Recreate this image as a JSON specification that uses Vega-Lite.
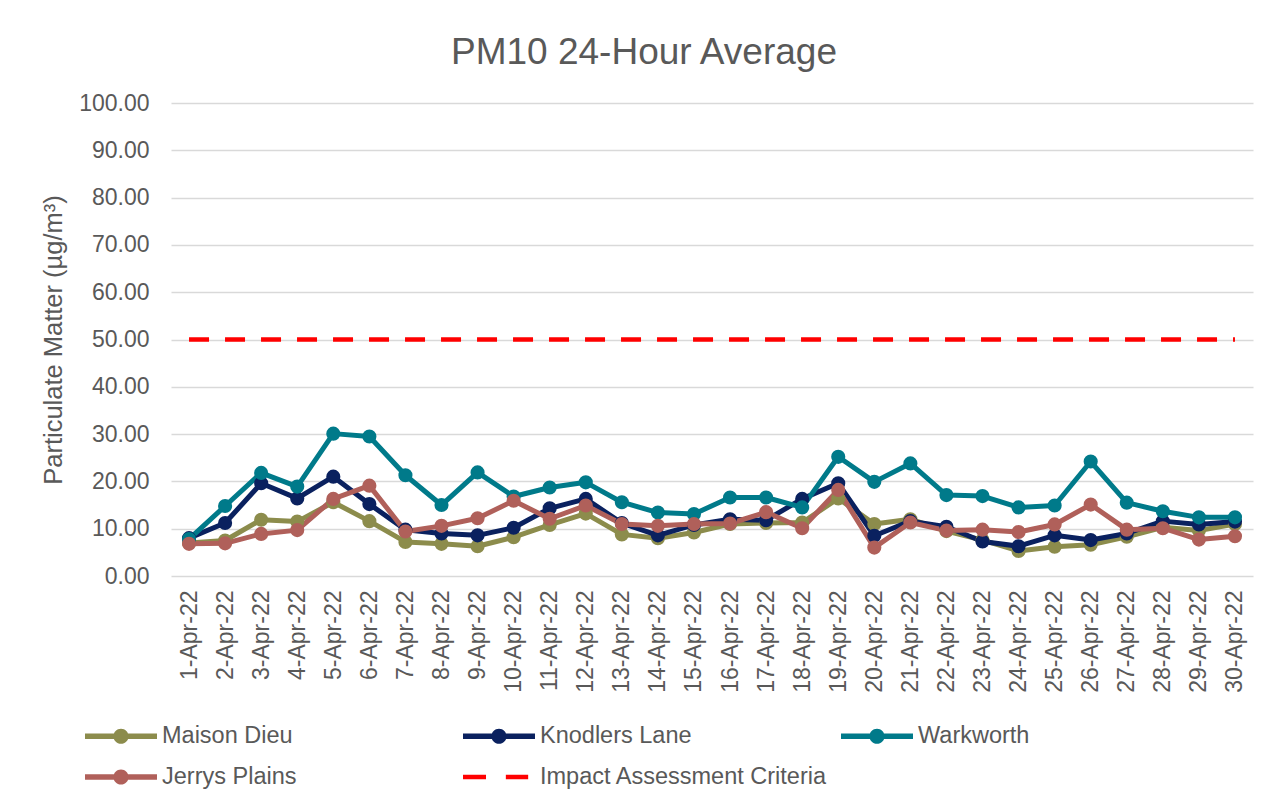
{
  "$schema": "https://vega.github.io/schema/vega-lite/v6.json",
  "width": 1082,
  "height": 473,
  "autosize": {"type": "none"},
  "padding": {"left": 171, "top": 103, "right": 21, "bottom": 233},
  "background": "white",
  "title": {
    "text": "PM10 24-Hour Average",
    "font": "Liberation Sans",
    "fontSize": 37,
    "fontWeight": "normal",
    "color": "#595959",
    "anchor": "middle",
    "dx": -68,
    "dy": 50,
    "offset": 41,
    "baseline": "alphabetic"
  },
  "config": {
    "view": {"stroke": null},
    "font": "Liberation Sans"
  },
  "data": {
    "values": [
      {"date": "1-Apr-22", "series": "Maison Dieu", "value": 7.0},
      {"date": "2-Apr-22", "series": "Maison Dieu", "value": 7.5},
      {"date": "3-Apr-22", "series": "Maison Dieu", "value": 11.9},
      {"date": "4-Apr-22", "series": "Maison Dieu", "value": 11.5},
      {"date": "5-Apr-22", "series": "Maison Dieu", "value": 15.6},
      {"date": "6-Apr-22", "series": "Maison Dieu", "value": 11.6},
      {"date": "7-Apr-22", "series": "Maison Dieu", "value": 7.2},
      {"date": "8-Apr-22", "series": "Maison Dieu", "value": 6.8},
      {"date": "9-Apr-22", "series": "Maison Dieu", "value": 6.3},
      {"date": "10-Apr-22", "series": "Maison Dieu", "value": 8.2},
      {"date": "11-Apr-22", "series": "Maison Dieu", "value": 10.8},
      {"date": "12-Apr-22", "series": "Maison Dieu", "value": 13.2},
      {"date": "13-Apr-22", "series": "Maison Dieu", "value": 8.8},
      {"date": "14-Apr-22", "series": "Maison Dieu", "value": 8.0},
      {"date": "15-Apr-22", "series": "Maison Dieu", "value": 9.2},
      {"date": "16-Apr-22", "series": "Maison Dieu", "value": 11.0},
      {"date": "17-Apr-22", "series": "Maison Dieu", "value": 11.2},
      {"date": "18-Apr-22", "series": "Maison Dieu", "value": 11.3},
      {"date": "19-Apr-22", "series": "Maison Dieu", "value": 16.4},
      {"date": "20-Apr-22", "series": "Maison Dieu", "value": 11.0},
      {"date": "21-Apr-22", "series": "Maison Dieu", "value": 12.0},
      {"date": "22-Apr-22", "series": "Maison Dieu", "value": 9.5},
      {"date": "23-Apr-22", "series": "Maison Dieu", "value": 7.6},
      {"date": "24-Apr-22", "series": "Maison Dieu", "value": 5.3},
      {"date": "25-Apr-22", "series": "Maison Dieu", "value": 6.2},
      {"date": "26-Apr-22", "series": "Maison Dieu", "value": 6.6},
      {"date": "27-Apr-22", "series": "Maison Dieu", "value": 8.3},
      {"date": "28-Apr-22", "series": "Maison Dieu", "value": 10.3},
      {"date": "29-Apr-22", "series": "Maison Dieu", "value": 9.6},
      {"date": "30-Apr-22", "series": "Maison Dieu", "value": 11.0},
      {"date": "1-Apr-22", "series": "Knodlers Lane", "value": 8.0},
      {"date": "2-Apr-22", "series": "Knodlers Lane", "value": 11.2},
      {"date": "3-Apr-22", "series": "Knodlers Lane", "value": 19.6},
      {"date": "4-Apr-22", "series": "Knodlers Lane", "value": 16.4},
      {"date": "5-Apr-22", "series": "Knodlers Lane", "value": 21.0},
      {"date": "6-Apr-22", "series": "Knodlers Lane", "value": 15.2},
      {"date": "7-Apr-22", "series": "Knodlers Lane", "value": 9.8},
      {"date": "8-Apr-22", "series": "Knodlers Lane", "value": 9.0},
      {"date": "9-Apr-22", "series": "Knodlers Lane", "value": 8.6},
      {"date": "10-Apr-22", "series": "Knodlers Lane", "value": 10.2},
      {"date": "11-Apr-22", "series": "Knodlers Lane", "value": 14.3},
      {"date": "12-Apr-22", "series": "Knodlers Lane", "value": 16.3},
      {"date": "13-Apr-22", "series": "Knodlers Lane", "value": 11.2},
      {"date": "14-Apr-22", "series": "Knodlers Lane", "value": 8.6},
      {"date": "15-Apr-22", "series": "Knodlers Lane", "value": 10.8},
      {"date": "16-Apr-22", "series": "Knodlers Lane", "value": 12.0},
      {"date": "17-Apr-22", "series": "Knodlers Lane", "value": 11.8},
      {"date": "18-Apr-22", "series": "Knodlers Lane", "value": 16.3},
      {"date": "19-Apr-22", "series": "Knodlers Lane", "value": 19.6},
      {"date": "20-Apr-22", "series": "Knodlers Lane", "value": 8.5},
      {"date": "21-Apr-22", "series": "Knodlers Lane", "value": 11.6},
      {"date": "22-Apr-22", "series": "Knodlers Lane", "value": 10.4},
      {"date": "23-Apr-22", "series": "Knodlers Lane", "value": 7.3},
      {"date": "24-Apr-22", "series": "Knodlers Lane", "value": 6.3},
      {"date": "25-Apr-22", "series": "Knodlers Lane", "value": 8.6},
      {"date": "26-Apr-22", "series": "Knodlers Lane", "value": 7.6},
      {"date": "27-Apr-22", "series": "Knodlers Lane", "value": 9.0},
      {"date": "28-Apr-22", "series": "Knodlers Lane", "value": 11.6},
      {"date": "29-Apr-22", "series": "Knodlers Lane", "value": 10.9},
      {"date": "30-Apr-22", "series": "Knodlers Lane", "value": 11.5},
      {"date": "1-Apr-22", "series": "Warkworth", "value": 7.8},
      {"date": "2-Apr-22", "series": "Warkworth", "value": 14.8},
      {"date": "3-Apr-22", "series": "Warkworth", "value": 21.8},
      {"date": "4-Apr-22", "series": "Warkworth", "value": 18.9},
      {"date": "5-Apr-22", "series": "Warkworth", "value": 30.1},
      {"date": "6-Apr-22", "series": "Warkworth", "value": 29.5},
      {"date": "7-Apr-22", "series": "Warkworth", "value": 21.3},
      {"date": "8-Apr-22", "series": "Warkworth", "value": 15.0},
      {"date": "9-Apr-22", "series": "Warkworth", "value": 21.9},
      {"date": "10-Apr-22", "series": "Warkworth", "value": 16.8},
      {"date": "11-Apr-22", "series": "Warkworth", "value": 18.7},
      {"date": "12-Apr-22", "series": "Warkworth", "value": 19.8},
      {"date": "13-Apr-22", "series": "Warkworth", "value": 15.6},
      {"date": "14-Apr-22", "series": "Warkworth", "value": 13.4},
      {"date": "15-Apr-22", "series": "Warkworth", "value": 13.1},
      {"date": "16-Apr-22", "series": "Warkworth", "value": 16.6},
      {"date": "17-Apr-22", "series": "Warkworth", "value": 16.6},
      {"date": "18-Apr-22", "series": "Warkworth", "value": 14.5},
      {"date": "19-Apr-22", "series": "Warkworth", "value": 25.2},
      {"date": "20-Apr-22", "series": "Warkworth", "value": 19.9},
      {"date": "21-Apr-22", "series": "Warkworth", "value": 23.8},
      {"date": "22-Apr-22", "series": "Warkworth", "value": 17.1},
      {"date": "23-Apr-22", "series": "Warkworth", "value": 16.9},
      {"date": "24-Apr-22", "series": "Warkworth", "value": 14.5},
      {"date": "25-Apr-22", "series": "Warkworth", "value": 14.9},
      {"date": "26-Apr-22", "series": "Warkworth", "value": 24.2},
      {"date": "27-Apr-22", "series": "Warkworth", "value": 15.5},
      {"date": "28-Apr-22", "series": "Warkworth", "value": 13.7},
      {"date": "29-Apr-22", "series": "Warkworth", "value": 12.4},
      {"date": "30-Apr-22", "series": "Warkworth", "value": 12.4},
      {"date": "1-Apr-22", "series": "Jerrys Plains", "value": 6.8},
      {"date": "2-Apr-22", "series": "Jerrys Plains", "value": 6.9},
      {"date": "3-Apr-22", "series": "Jerrys Plains", "value": 8.9},
      {"date": "4-Apr-22", "series": "Jerrys Plains", "value": 9.7},
      {"date": "5-Apr-22", "series": "Jerrys Plains", "value": 16.3},
      {"date": "6-Apr-22", "series": "Jerrys Plains", "value": 19.1},
      {"date": "7-Apr-22", "series": "Jerrys Plains", "value": 9.4},
      {"date": "8-Apr-22", "series": "Jerrys Plains", "value": 10.6},
      {"date": "9-Apr-22", "series": "Jerrys Plains", "value": 12.2},
      {"date": "10-Apr-22", "series": "Jerrys Plains", "value": 15.9},
      {"date": "11-Apr-22", "series": "Jerrys Plains", "value": 12.1},
      {"date": "12-Apr-22", "series": "Jerrys Plains", "value": 14.9},
      {"date": "13-Apr-22", "series": "Jerrys Plains", "value": 11.0},
      {"date": "14-Apr-22", "series": "Jerrys Plains", "value": 10.6},
      {"date": "15-Apr-22", "series": "Jerrys Plains", "value": 11.0},
      {"date": "16-Apr-22", "series": "Jerrys Plains", "value": 11.1},
      {"date": "17-Apr-22", "series": "Jerrys Plains", "value": 13.5},
      {"date": "18-Apr-22", "series": "Jerrys Plains", "value": 10.1},
      {"date": "19-Apr-22", "series": "Jerrys Plains", "value": 18.2},
      {"date": "20-Apr-22", "series": "Jerrys Plains", "value": 6.0},
      {"date": "21-Apr-22", "series": "Jerrys Plains", "value": 11.3},
      {"date": "22-Apr-22", "series": "Jerrys Plains", "value": 9.6},
      {"date": "23-Apr-22", "series": "Jerrys Plains", "value": 9.8},
      {"date": "24-Apr-22", "series": "Jerrys Plains", "value": 9.3},
      {"date": "25-Apr-22", "series": "Jerrys Plains", "value": 10.9},
      {"date": "26-Apr-22", "series": "Jerrys Plains", "value": 15.1},
      {"date": "27-Apr-22", "series": "Jerrys Plains", "value": 9.8},
      {"date": "28-Apr-22", "series": "Jerrys Plains", "value": 10.1},
      {"date": "29-Apr-22", "series": "Jerrys Plains", "value": 7.7},
      {"date": "30-Apr-22", "series": "Jerrys Plains", "value": 8.4},
      {"date": "1-Apr-22", "series": "Impact Assessment Criteria", "value": 50},
      {"date": "2-Apr-22", "series": "Impact Assessment Criteria", "value": 50},
      {"date": "3-Apr-22", "series": "Impact Assessment Criteria", "value": 50},
      {"date": "4-Apr-22", "series": "Impact Assessment Criteria", "value": 50},
      {"date": "5-Apr-22", "series": "Impact Assessment Criteria", "value": 50},
      {"date": "6-Apr-22", "series": "Impact Assessment Criteria", "value": 50},
      {"date": "7-Apr-22", "series": "Impact Assessment Criteria", "value": 50},
      {"date": "8-Apr-22", "series": "Impact Assessment Criteria", "value": 50},
      {"date": "9-Apr-22", "series": "Impact Assessment Criteria", "value": 50},
      {"date": "10-Apr-22", "series": "Impact Assessment Criteria", "value": 50},
      {"date": "11-Apr-22", "series": "Impact Assessment Criteria", "value": 50},
      {"date": "12-Apr-22", "series": "Impact Assessment Criteria", "value": 50},
      {"date": "13-Apr-22", "series": "Impact Assessment Criteria", "value": 50},
      {"date": "14-Apr-22", "series": "Impact Assessment Criteria", "value": 50},
      {"date": "15-Apr-22", "series": "Impact Assessment Criteria", "value": 50},
      {"date": "16-Apr-22", "series": "Impact Assessment Criteria", "value": 50},
      {"date": "17-Apr-22", "series": "Impact Assessment Criteria", "value": 50},
      {"date": "18-Apr-22", "series": "Impact Assessment Criteria", "value": 50},
      {"date": "19-Apr-22", "series": "Impact Assessment Criteria", "value": 50},
      {"date": "20-Apr-22", "series": "Impact Assessment Criteria", "value": 50},
      {"date": "21-Apr-22", "series": "Impact Assessment Criteria", "value": 50},
      {"date": "22-Apr-22", "series": "Impact Assessment Criteria", "value": 50},
      {"date": "23-Apr-22", "series": "Impact Assessment Criteria", "value": 50},
      {"date": "24-Apr-22", "series": "Impact Assessment Criteria", "value": 50},
      {"date": "25-Apr-22", "series": "Impact Assessment Criteria", "value": 50},
      {"date": "26-Apr-22", "series": "Impact Assessment Criteria", "value": 50},
      {"date": "27-Apr-22", "series": "Impact Assessment Criteria", "value": 50},
      {"date": "28-Apr-22", "series": "Impact Assessment Criteria", "value": 50},
      {"date": "29-Apr-22", "series": "Impact Assessment Criteria", "value": 50},
      {"date": "30-Apr-22", "series": "Impact Assessment Criteria", "value": 50}
    ]
  },
  "encoding": {
    "x": {
      "field": "date",
      "type": "ordinal",
      "sort": null,
      "scale": {"type": "point", "padding": 0.5},
      "axis": {
        "title": null,
        "labelAngle": 270,
        "labelFont": "Liberation Sans",
        "labelFontSize": 23,
        "labelColor": "#595959",
        "labelPadding": 14,
        "ticks": false,
        "tickSize": 0,
        "domain": false,
        "grid": false
      }
    },
    "y": {
      "field": "value",
      "type": "quantitative",
      "scale": {"domain": [0, 100], "nice": false},
      "axis": {
        "title": "Particulate Matter (µg/m³)",
        "titleFont": "Liberation Sans",
        "titleFontSize": 25.5,
        "titleFontWeight": "normal",
        "titleColor": "#595959",
        "titlePadding": 12,
        "values": [0, 10, 20, 30, 40, 50, 60, 70, 80, 90, 100],
        "format": ".2f",
        "labelFont": "Liberation Sans",
        "labelFontSize": 23,
        "labelColor": "#595959",
        "labelPadding": 22,
        "ticks": false,
        "tickSize": 0,
        "domain": false,
        "grid": true,
        "gridColor": "#D9D9D9",
        "gridWidth": 1.5
      }
    },
    "color": {
      "field": "series",
      "type": "nominal",
      "scale": {
        "domain": ["Maison Dieu", "Knodlers Lane", "Warkworth", "Jerrys Plains", "Impact Assessment Criteria"],
        "range": ["#8C8C4C", "#0A215F", "#007A8A", "#B0605A", "#FF0000"]
      },
      "legend": {
        "title": null,
        "orient": "none",
        "direction": "horizontal",
        "legendX": -86,
        "legendY": 604,
        "columns": 3,
        "gridAlign": "all",
        "columnPadding": 13,
        "rowPadding": 0,
        "padding": 0,
        "symbolSize": 3364,
        "symbolOffset": 7,
        "labelFont": "Liberation Sans",
        "labelFontSize": 23.5,
        "labelColor": "#595959",
        "labelOffset": 12,
        "labelLimit": 0,
        "encode": {
          "symbols": {
            "update": {
              "shape": {"signal": "datum.value === 'Impact Assessment Criteria' ? 'M-1.241,-0.081L-0.448,-0.081L-0.448,0.081L-1.241,0.081ZM0.236,-0.081L1.006,-0.081L1.006,0.081L0.236,0.081Z' : 'M-1.241,-0.093L1.241,-0.093L1.241,0.093L-1.241,0.093ZM0.262,0A0.262,0.262 0 1 1 -0.262,0A0.262,0.262 0 1 1 0.262,0Z'"},
              "fill": {"scale": "color", "field": "value"},
              "stroke": {"value": "transparent"},
              "strokeWidth": {"value": 0},
              "opacity": {"value": 1}
            }
          }
        }
      }
    }
  },
  "layer": [
    {
      "transform": [{"filter": "datum.series !== 'Impact Assessment Criteria'"}],
      "mark": {"type": "line", "strokeWidth": 5, "strokeJoin": "round", "strokeCap": "round"}
    },
    {
      "transform": [{"filter": "datum.series === 'Impact Assessment Criteria'"}],
      "mark": {"type": "line", "strokeWidth": 4.5, "strokeDash": [20, 16], "strokeCap": "butt"}
    },
    {
      "transform": [{"filter": "datum.series !== 'Impact Assessment Criteria'"}],
      "mark": {"type": "point", "filled": true, "opacity": 1, "size": 200, "shape": "circle"}
    }
  ]
}
